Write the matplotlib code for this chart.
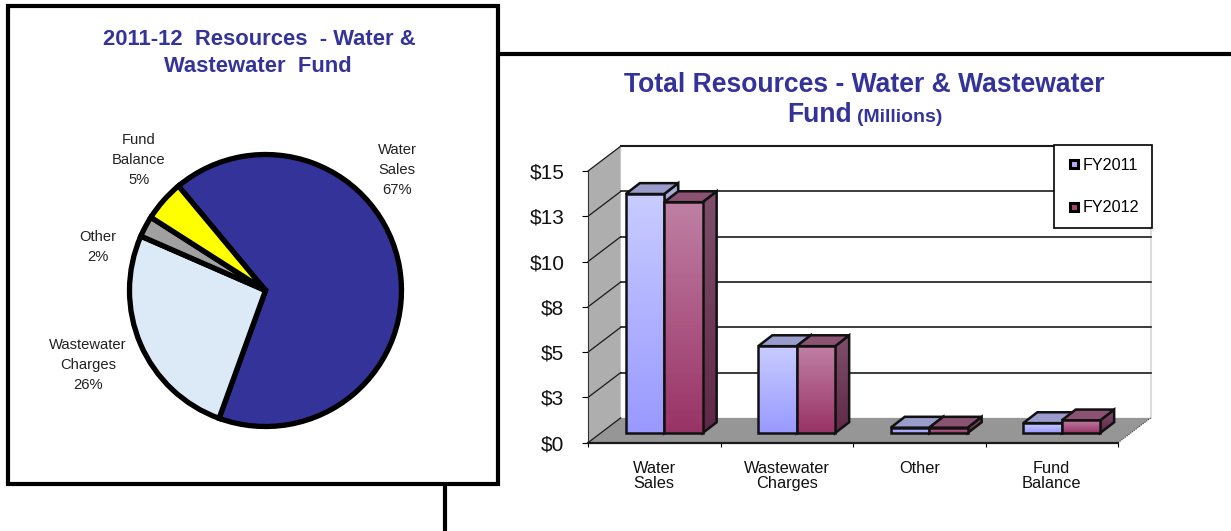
import numpy as np
import matplotlib
matplotlib.use('Agg')
import matplotlib.pyplot as plt
from matplotlib.colors import LinearSegmentedColormap
from matplotlib.lines import Line2D
from matplotlib.patches import Polygon, Rectangle

W, H = 1231, 531

# pie data
pie_labels = ['Water\nSales\n67%', 'Fund\nBalance\n5%', 'Other\n2%', 'Wastewater\nCharges\n26%']
pie_shares = [66.6, 26.0, 2.5, 4.9]
pie_colors = ['#333399', '#DCE9F7', '#A0A0A0', '#FFFF00']

# bar data (millions)
categories = ['Water\nSales', 'Wastewater\nCharges', 'Other', 'Fund\nBalance']
fy2011 = [13.2, 4.8, 0.3, 0.55]
fy2012 = [12.75, 4.8, 0.3, 0.7]
y_ticks = [0, 2.5, 5, 7.5, 10, 12.5, 15]
y_labels = ['$0', '$3', '$5', '$8', '$10', '$13', '$15']

plt.rcParams['font.family'] = ['Liberation Sans', 'DejaVu Sans']
plt.rcParams['axes.unicode_minus'] = False
TITLE = '#333399'


def px_axes(x0, y0, x1, y1, **kw):
    # axes from pixel box, y measured from the top
    return fig.add_axes([x0 / W, 1 - y1 / H, (x1 - x0) / W, (y1 - y0) / H], **kw)


def grad_poly(ax, pts, top, bottom, z):
    # polygon filled with a vertical gradient
    pts = np.array(pts)
    cmap = LinearSegmentedColormap.from_list('g', [bottom, top])
    ext = [pts[:, 0].min(), pts[:, 0].max(), pts[:, 1].min(), pts[:, 1].max()]
    im = ax.imshow(np.linspace(1, 0, 64).reshape(-1, 1), cmap=cmap, extent=ext,
                   aspect='auto', zorder=z, vmin=0, vmax=1, clip_on=True)
    clip = Polygon(pts, closed=True, transform=ax.transData)
    im.set_clip_path(clip)
    ax.add_patch(Polygon(pts, closed=True, fill=False, edgecolor='#111111', lw=1.8,
                         joinstyle='miter', zorder=z + 0.1, clip_on=False))


fig = plt.figure(figsize=(W / 100, H / 100), dpi=100, facecolor='white')

# panel frames
bg = px_axes(0, 0, W, H, zorder=0)
bg.set_xlim(0, W)
bg.set_ylim(H, 0)
bg.axis('off')
bg.plot([445, 445, W + 5], [H + 5, 54, 54], color='black', lw=3, solid_joinstyle='miter', zorder=1)
bg.add_patch(Rectangle((8, 6), 490, 478, facecolor='white', edgecolor='black', lw=3,
                       joinstyle='miter', zorder=2))

bg.text(259, 39.5, '2011-12  Resources  - Water &', color=TITLE, fontsize=15.8,
        fontweight='bold', ha='center', va='center', zorder=3)
bg.text(258, 66, 'Wastewater  Fund', color=TITLE, fontsize=15.8,
        fontweight='bold', ha='center', va='center', zorder=3)
bg.text(864, 84.5, 'Total Resources - Water & Wastewater', color=TITLE, fontsize=19.1,
        fontweight='bold', ha='center', va='center', zorder=3)
bg.text(787, 115.5, 'Fund', color=TITLE, fontsize=19.1, fontweight='bold', ha='left', va='center', zorder=3)
bg.text(857, 117, '(Millions)', color=TITLE, fontsize=14, fontweight='bold', ha='left', va='center', zorder=3)

for txt, x, y in zip(pie_labels, [397, 139, 98, 88], [170, 160, 247, 365]):
    bg.text(x, y, txt, fontsize=10.6, color='#222222', ha='center',
            va='center', linespacing=1.55, zorder=3)

# pie
pie_ax = px_axes(129.5, 154.5, 401.5, 426.5, zorder=2)
pie_ax.pie(pie_shares, colors=pie_colors, startangle=129.8, counterclock=False, radius=1,
           wedgeprops=dict(edgecolor='black', linewidth=3.8))
pie_ax.set_xlim(-1, 1)
pie_ax.set_ylim(-1, 1)
for w in pie_ax.patches:
    w.set_clip_on(False)

# bars: axes box is the front plane of the 3D chart
ax = px_axes(588, 171, 1118, 442.7, zorder=1)
ax.patch.set_alpha(0)
x_pos = np.arange(len(categories)) + 0.5
DX, DY = 0.247, 1.37   # depth of the chart box
BX, BY = 0.106, 0.6    # depth of a bar
LX, LY = 0.075, 0.53   # bar front face set back from the front plane
BW = 0.29

# floor and side wall
ax.add_patch(Polygon([(0, 0), (DX, DY), (4 + DX, DY), (4, 0)], facecolor='#969696',
                     edgecolor='none', zorder=1, clip_on=False))
ax.add_patch(Polygon([(0, 0), (DX, DY), (DX, 15 + DY), (0, 15)], facecolor='#AEAEAE',
                     edgecolor='none', zorder=1, clip_on=False))
for v in y_ticks:
    lw = 1.5 if v == 15 else 1.2
    if v > 0:
        ax.plot([DX, 4 + DX], [v + DY, v + DY], color='#1A1A1A', lw=lw, zorder=2, clip_on=False)
    ax.plot([0, DX], [v, v + DY], color='#1A1A1A', lw=0.9, zorder=2, clip_on=False)
ax.plot([4 + DX, 4 + DX], [DY, 15 + DY], color='#DDDDDD', lw=1.5, zorder=1.5, clip_on=False)
ax.plot([4, 4 + DX], [0, DY], color='#444444', lw=0.8, ls=(0, (1, 1)), zorder=2, clip_on=False)

series = [(fy2011, -BW / 2, '#C8CCFF', '#9999FF', '#9A9CCB', '#A9AAD6', '#8C8CC0'),
          (fy2012, BW / 2, '#BF7FA3', '#993366', '#8C5272', '#7F4F6A', '#5F2848')]
for k, (vals, off, top, bot, lid, s_top, s_bot) in enumerate(series):
    for i, v in enumerate(vals):
        z = 5 + k + i * 0.01
        x0 = x_pos[i] + LX + off - BW / 2
        x1 = x0 + BW
        y0, y1 = LY, LY + v
        grad_poly(ax, [(x1, y0), (x1 + BX, y0 + BY), (x1 + BX, y1 + BY), (x1, y1)], s_top, s_bot, z)
        ax.add_patch(Polygon([(x0, y1), (x0 + BX, y1 + BY), (x1 + BX, y1 + BY), (x1, y1)],
                             facecolor=lid, edgecolor='#111111', lw=1.8, zorder=z + 0.2,
                             clip_on=False))
        grad_poly(ax, [(x0, y0), (x1, y0), (x1, y1), (x0, y1)], top, bot, z + 0.3)

ax.set_xlim(0, 4)
ax.set_ylim(0, 15)
for s in ['top', 'right']:
    ax.spines[s].set_visible(False)
ax.spines['left'].set_color('#333333')
ax.spines['left'].set_linewidth(0.8)
ax.spines['bottom'].set_color('#1A1A1A')
ax.spines['bottom'].set_linewidth(1.6)
ax.set_yticks(y_ticks)
ax.set_yticklabels(y_labels, fontsize=15, color='#111111')
ax.tick_params(axis='y', length=4, width=0.8, pad=13)
ax.set_xticks(np.arange(5))
ax.set_xticklabels([])
ax.tick_params(axis='x', which='major', length=3, width=0.8)
ax.set_xticks(x_pos, minor=True)
ax.set_xticklabels(categories, minor=True, fontsize=11.8, color='#111111', linespacing=1.05)
ax.tick_params(axis='x', which='minor', length=0, pad=13)

handles = [Line2D([], [], ls='none', marker='s', ms=5.5, mfc=c, mec='black', mew=2.2)
           for c in ['#A9AEFF', '#A8476F']]
leg = ax.legend(handles, ['FY2011', 'FY2012'], loc='center',
                bbox_to_anchor=(1103 / W, 1 - 186.5 / H), bbox_transform=fig.transFigure,
                fontsize=11.6, frameon=True, fancybox=False, framealpha=1, edgecolor='black',
                handlelength=0.9, handletextpad=0.1, labelspacing=1.7, borderpad=0.8,
                borderaxespad=0)
leg.get_frame().set_linewidth(1.2)
leg.set_zorder(20)

fig.savefig('out.png', dpi=100)
